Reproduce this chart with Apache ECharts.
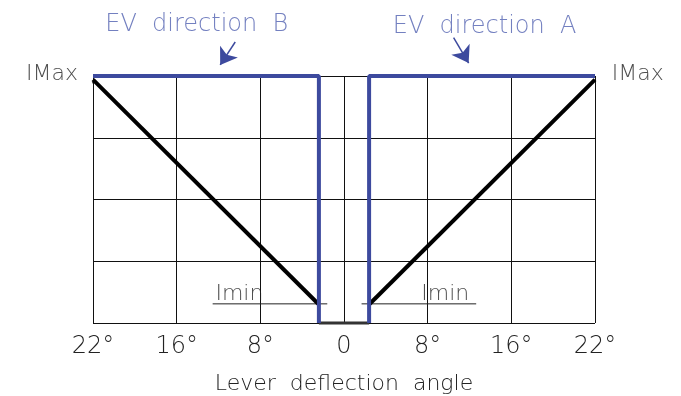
<!DOCTYPE html>
<html>
<head>
<meta charset="utf-8">
<script src="https://cdn.jsdelivr.net/npm/echarts@6/dist/echarts.min.js"></script>
<style>
  html, body { margin: 0; padding: 0; background: #fff; }
  #main { width: 681px; height: 396px; }
</style>
</head>
<body>
<div id="main"></div>
<script>
// 刻度位置 / 标签 (grid lines are equally spaced, labels are the angle)
const tickPos = [-3, -2, -1, 0, 1, 2, 3];
const tickLabels = ['22°', '16°', '8°', '0', '8°', '16°', '22°'];

// EV direction B / A (blue step)
const evB = [[-3, 4], [-0.3, 4], [-0.3, 0]];
const evA = [[0.3, 0], [0.3, 4], [3, 4]];
// current ramp (black)
const rampB = [[-3, 3.94], [-0.3, 0.3]];
const rampA = [[0.3, 0.3], [3, 3.94]];
const zeroBar = [[-0.3, 0], [0.3, 0]];
// Imin / IMax leader lines
const iminB = [[-1.57, 0.31], [-0.2, 0.31]];
const iminA = [[0.21, 0.31], [1.58, 0.31]];
const imaxB = [[-3.98, 3.89], [-3, 3.89]];
const imaxA = [[3, 3.89], [4.05, 3.89]];
// annotations [x, y, text, colour]
const notes = [
  [-1.76, 4.83, 'EV  direction  B', 'blue'],
  [1.68, 4.80, 'EV  direction  A', 'blue'],
  [-3.49, 4.03, 'IMax', 'black'],
  [3.51, 4.03, 'IMax', 'black'],
  [-1.25, 0.46, 'Imin', 'black'],
  [1.21, 0.46, 'Imin', 'black']
];
const arrows = [
  [[-1.30, 4.55], [-1.48, 4.18]],
  [[1.31, 4.62], [1.49, 4.21]]
];

const blue = '#3d4a9e';
const textBlue = '#5060b0';
const font = 'DejaVu Sans';

const myChart = echarts.init(document.getElementById('main'));

function plainLine(data, color, width) {
  return {
    type: 'line',
    data: data,
    symbol: 'none',
    clip: false,
    silent: true,
    animation: false,
    lineStyle: { color: color, width: width }
  };
}

const option = {
  animation: false,
  grid: { left: 93, right: 86, top: 76, bottom: 73, outerBoundsMode: 'none', containLabel: false },
  xAxis: {
    type: 'value',
    min: -3,
    max: 3,
    interval: 1,
    axisLine: { show: false },
    axisTick: { show: false },
    splitLine: { show: true, lineStyle: { color: '#111', width: 1 } },
    axisLabel: {
      margin: 12,
      fontSize: 24,
      fontFamily: font,
      fontWeight: 200,
      color: '#222',
      formatter: function (v) {
        const i = tickPos.indexOf(Math.round(v));
        return i >= 0 ? tickLabels[i] : '';
      }
    },
    name: 'Lever  deflection  angle',
    nameLocation: 'middle',
    nameGap: 50,
    nameTextStyle: { fontSize: 22, fontFamily: font, fontWeight: 200, color: '#222' }
  },
  yAxis: {
    type: 'value',
    min: 0,
    max: 4,
    interval: 1,
    axisLine: { show: false },
    axisTick: { show: false },
    axisLabel: { show: false },
    splitLine: { show: true, lineStyle: { color: '#111', width: 1 } }
  },
  series: [
    plainLine(imaxB, '#222', 1),
    plainLine(imaxA, '#222', 1),
    plainLine(iminB, '#222', 1),
    plainLine(iminA, '#222', 1),
    plainLine(zeroBar, '#333', 3),
    plainLine(rampB, '#000', 4),
    plainLine(rampA, '#000', 4),
    plainLine(evB, blue, 4),
    plainLine(evA, blue, 4),
    {
      type: 'scatter',
      data: notes.map(n => ({
        value: [n[0], n[1]],
        label: {
          color: n[3] === 'blue' ? textBlue : '#222',
          fontSize: n[3] === 'blue' ? 24 : 22
        }
      })),
      symbolSize: 0,
      clip: false,
      silent: true,
      label: {
        show: true,
        position: 'inside',
        fontFamily: font,
        fontWeight: 200,
        formatter: function (p) { return notes[p.dataIndex][2]; }
      }
    },
    {
      type: 'lines',
      coordinateSystem: 'cartesian2d',
      clip: false,
      silent: true,
      symbol: ['none', 'arrow'],
      symbolSize: [0, 16],
      lineStyle: { color: blue, width: 1.5, opacity: 1 },
      data: arrows.map(a => ({ coords: a }))
    }
  ]
};

myChart.setOption(option);
</script>
</body>
</html>
